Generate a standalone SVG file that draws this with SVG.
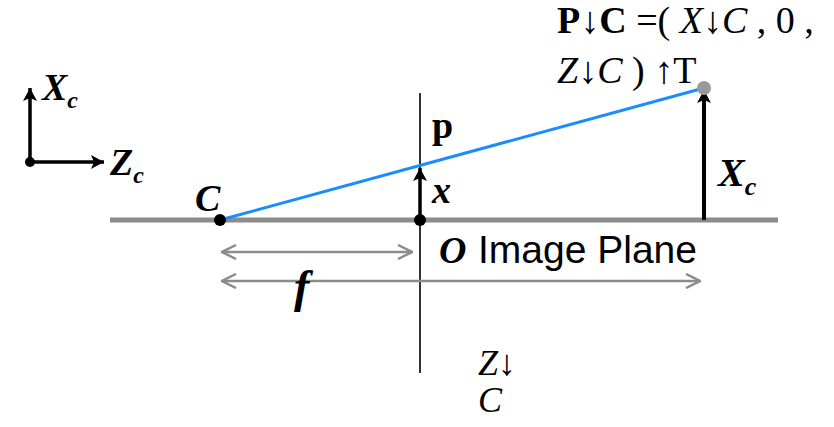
<svg xmlns="http://www.w3.org/2000/svg" width="834" height="427" viewBox="0 0 834 427">
<defs>
<style>
.mi{font-family:"Liberation Serif","DejaVu Serif",serif;font-style:italic;font-weight:bold;fill:#000}
.mr{font-family:"Liberation Serif","DejaVu Serif",serif;fill:#000}
.sans{font-family:"Liberation Sans",Arial,sans-serif;fill:#000}
.gray{stroke:#8c8c8c;fill:none}
.blk{stroke:#000;fill:none}
</style>
<marker id="ahb" viewBox="0 0 16 16" refX="14" refY="8" markerWidth="16" markerHeight="16" markerUnits="userSpaceOnUse" orient="auto-start-reverse">
<path d="M1,1 L14,8 L1,15 L4,8 Z" fill="#000"/>
</marker>
<marker id="ahg" viewBox="0 0 16 16" refX="15" refY="8" markerWidth="16" markerHeight="16" markerUnits="userSpaceOnUse" orient="auto-start-reverse">
<path d="M1,1 L15,8 L1,15" fill="none" stroke="#8c8c8c" stroke-width="2.5"/>
</marker>
</defs>

<g id="axes">
<line class="blk" x1="30" y1="162" x2="30" y2="88" stroke-width="3.5" marker-end="url(#ahb)"/>
<line class="blk" x1="30" y1="162" x2="104" y2="162" stroke-width="3.5" marker-end="url(#ahb)"/>
<circle cx="30" cy="162" r="5" fill="#000"/>
<text class="mi" x="42" y="100" font-size="38">X<tspan font-size="24" dy="8">c</tspan></text>
<text class="mi" x="110" y="175" font-size="38">Z<tspan font-size="24" dy="8">c</tspan></text>
</g>

<g id="connectors">
<line class="gray" x1="110" y1="220" x2="778" y2="220" stroke-width="5"/>
<line x1="420" y1="93" x2="420" y2="373" stroke="#333" stroke-width="2"/>
<line x1="220" y1="220" x2="704" y2="88" stroke="#1a8cff" stroke-width="3"/>
<line class="blk" x1="420" y1="220" x2="420" y2="168" stroke-width="3.5" marker-end="url(#ahb)"/>
<line class="blk" x1="704" y1="220" x2="704" y2="90" stroke-width="4" marker-end="url(#ahb)"/>
<line class="gray" x1="222" y1="252" x2="412" y2="252" stroke-width="2.5" marker-start="url(#ahg)" marker-end="url(#ahg)"/>
<line class="gray" x1="222" y1="281" x2="700" y2="281" stroke-width="2.5" marker-start="url(#ahg)" marker-end="url(#ahg)"/>
</g>

<g id="C">
<circle cx="220" cy="220" r="6" fill="#000"/>
<text class="mi" x="195" y="211" font-size="38">C</text>
</g>

<g id="O">
<circle cx="420" cy="220" r="6" fill="#000"/>
<text class="mi" x="439" y="263" font-size="38">O</text>
<text class="sans" x="478" y="263" font-size="39">Image Plane</text>
</g>

<g id="p">
<text class="mr" x="432" y="138" font-size="38" font-weight="bold">p</text>
<text class="mi" x="432" y="203" font-size="38">x</text>
</g>

<g id="P">
<circle cx="704" cy="88" r="7" fill="#9a9a9a"/>
<text class="mi" x="718" y="186" font-size="40">X<tspan font-size="26" dy="9">c</tspan></text>
<text class="mr" x="557" y="33" font-size="38"><tspan font-weight="bold">P↓C</tspan> =( <tspan font-style="italic">X↓C</tspan> , 0 ,</text>
<text class="mr" x="557" y="83" font-size="38"><tspan font-style="italic">Z↓C</tspan> ) ↑T</text>
</g>

<g id="f">
<text class="mi" x="294" y="302" font-size="46">f</text>
</g>

<g id="Zc">
<text class="mr" x="478" y="375" font-size="36" font-style="italic">Z↓</text>
<text class="mr" x="478" y="412" font-size="36" font-style="italic">C</text>
</g>
</svg>
